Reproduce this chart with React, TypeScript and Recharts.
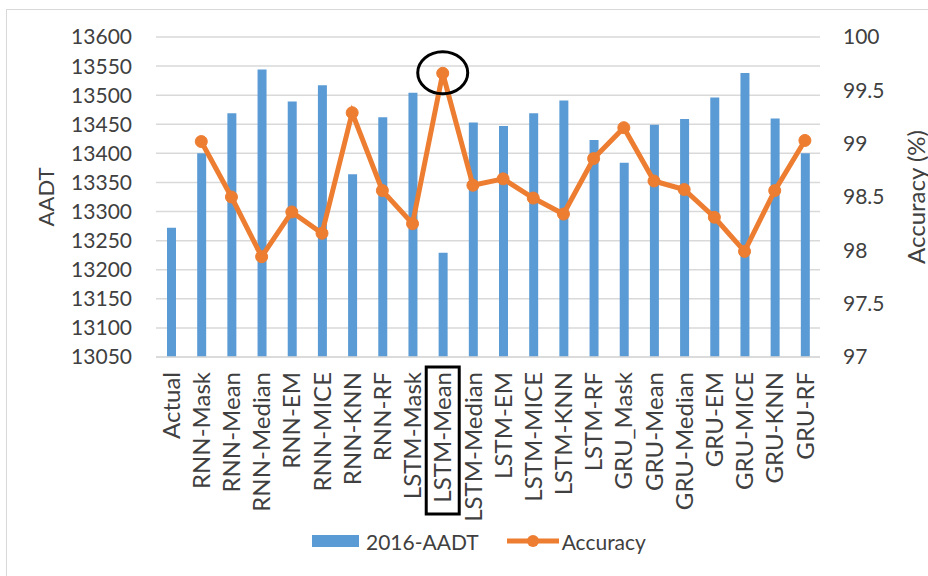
import React from 'react';
import {
  ComposedChart,
  Bar,
  Line,
  XAxis,
  YAxis,
  CartesianGrid,
  Legend,
  ReferenceDot,
} from 'recharts';

const categories = [
  'Actual', 'RNN-Mask', 'RNN-Mean', 'RNN-Median', 'RNN-EM', 'RNN-MICE', 'RNN-KNN', 'RNN-RF',
  'LSTM-Mask', 'LSTM-Mean', 'LSTM-Median', 'LSTM-EM', 'LSTM-MICE', 'LSTM-KNN', 'LSTM-RF',
  'GRU_Mask', 'GRU-Mean', 'GRU-Median', 'GRU-EM', 'GRU-MICE', 'GRU-KNN', 'GRU-RF',
];

const aadt2016 = [
  13272, 13400, 13469, 13544, 13489, 13517, 13364, 13462,
  13504, 13229, 13453, 13447, 13469, 13491, 13423,
  13384, 13449, 13459, 13496, 13538, 13460, 13400,
];

const accuracy: (number | null)[] = [
  null, 99.02, 98.5, 97.94, 98.36, 98.16, 99.29, 98.56,
  98.25, 99.66, 98.61, 98.67, 98.49, 98.34, 98.86,
  99.15, 98.65, 98.57, 98.31, 97.99, 98.56, 99.03,
];

const aadtTicks = [13050, 13100, 13150, 13200, 13250, 13300, 13350, 13400, 13450, 13500, 13550, 13600];
const accuracyTicks = [97, 97.5, 98, 98.5, 99, 99.5, 100];

const highlightCategory = 'LSTM-Mean';

const BLUE = '#5B9BD5';
const ORANGE = '#ED7D31';
const TEXT = '#404040';
const FONT = 'Lato, "Open Sans", sans-serif';

const data = categories.map((name, i) => ({
  name,
  aadt: aadt2016[i],
  accuracy: accuracy[i],
}));

const highlightAccuracy = accuracy[categories.indexOf(highlightCategory)] as number;

const CategoryTick = (props: any) => {
  const { x, y, payload } = props;
  const label = payload.value as string;
  const hl = label === highlightCategory;
  return (
    <g transform={`translate(${x},${y})`}>
      <text
        x={-15}
        y={0}
        dy="0.36em"
        transform="rotate(-90)"
        textAnchor="end"
        fill={TEXT}
        fontSize={24}
        fontFamily={FONT}
      >
        {label}
      </text>
      {hl && (
        <rect x={-16.5} y={10} width={33} height={147} fill="none" stroke="#000" strokeWidth={3} />
      )}
    </g>
  );
};

const LeftTitle = (props: any) => {
  const vb = props.viewBox || { x: 0, y: 37, width: 156, height: 320 };
  const cx = 45;
  const cy = vb.y + vb.height / 2;
  return (
    <text
      x={cx}
      y={cy}
      transform={`rotate(-90 ${cx} ${cy})`}
      textAnchor="middle"
      dominantBaseline="central"
      fill={TEXT}
      fontSize={22}
      fontFamily={FONT}
    >
      AADT
    </text>
  );
};

const RightTitle = (props: any) => {
  const vb = props.viewBox || { x: 820, y: 37, width: 108, height: 320 };
  const cx = vb.x + 95;
  const cy = vb.y + vb.height / 2;
  return (
    <text
      x={cx}
      y={cy}
      transform={`rotate(-90 ${cx} ${cy})`}
      textAnchor="middle"
      dominantBaseline="central"
      fill={TEXT}
      fontSize={24}
      fontFamily={FONT}
    >
      Accuracy (%)
    </text>
  );
};

const LegendContent = (props: any) => {
  const payload = props.payload || [];
  const barName = payload.find((p: any) => p.dataKey === 'aadt')?.value ?? '2016-AADT';
  const lineName = payload.find((p: any) => p.dataKey === 'accuracy')?.value ?? 'Accuracy';
  return (
    <div
      style={{
        display: 'flex',
        alignItems: 'center',
        marginLeft: 312,
        height: 30,
        fontFamily: FONT,
        fontSize: 21,
        color: TEXT,
        whiteSpace: 'nowrap',
      }}
    >
      <span style={{ display: 'inline-block', width: 47, height: 12, background: BLUE }} />
      <span style={{ marginLeft: 7 }}>{barName}</span>
      <svg width={52} height={14} style={{ marginLeft: 28 }}>
        <line x1={0} y1={7} x2={52} y2={7} stroke={ORANGE} strokeWidth={5} />
        <circle cx={26} cy={7} r={6} fill={ORANGE} />
      </svg>
      <span style={{ marginLeft: 3 }}>{lineName}</span>
    </div>
  );
};

const HighlightEllipse = (props: any) => {
  const { cx, cy } = props;
  if (cx == null || cy == null) return null;
  return <ellipse cx={cx} cy={cy - 0.5} rx={25} ry={21} fill="none" stroke="#000" strokeWidth={3} />;
};

export default function App() {
  return (
    <div
      style={{
        position: 'absolute',
        left: 0,
        top: 0,
        width: 928,
        height: 576,
        overflow: 'hidden',
        background: '#fff',
      }}
    >
      <div
        style={{
          position: 'absolute',
          left: 6,
          top: 9,
          width: 960,
          height: 620,
          border: '1.5px solid #d9d9d9',
        }}
      />
      <div style={{ position: 'absolute', left: 0, top: 0 }}>
        <ComposedChart
          width={928}
          height={576}
          data={data}
          margin={{ top: 37, right: 0, left: 0, bottom: 0 }}
          barCategoryGap="35%"
        >
          <CartesianGrid
            yAxisId="left"
            vertical={false}
            horizontal={true}
            stroke="#d9d9d9"
            strokeWidth={1.5}
          />
          <XAxis
            dataKey="name"
            interval={0}
            height={219}
            tickLine={false}
            axisLine={{ stroke: '#d9d9d9', strokeWidth: 1.5 }}
            tickSize={0}
            tickMargin={0}
            tick={<CategoryTick />}
          />
          <YAxis
            yAxisId="left"
            orientation="left"
            width={156}
            domain={[13050, 13600]}
            ticks={aadtTicks}
            interval={0}
            allowDataOverflow
            axisLine={false}
            tickLine={false}
            tickSize={0}
            tickMargin={24}
            tick={{ fill: TEXT, fontSize: 21, fontFamily: FONT }}
            label={<LeftTitle />}
          />
          <YAxis
            yAxisId="right"
            orientation="right"
            width={108}
            domain={[97, 100]}
            ticks={accuracyTicks}
            interval={0}
            axisLine={false}
            tickLine={false}
            tickSize={0}
            tickMargin={23}
            tick={{ fill: TEXT, fontSize: 21, fontFamily: FONT, textAnchor: 'start' }}
            label={<RightTitle />}
          />
          <Bar
            yAxisId="left"
            dataKey="aadt"
            name="2016-AADT"
            fill={BLUE}
            barSize={9}
            isAnimationActive={false}
          />
          <Line
            yAxisId="right"
            dataKey="accuracy"
            name="Accuracy"
            type="linear"
            stroke={ORANGE}
            strokeWidth={5}
            dot={{ r: 6, fill: ORANGE, stroke: ORANGE, strokeWidth: 1 }}
            activeDot={false}
            isAnimationActive={false}
          />
          <ReferenceDot
            yAxisId="right"
            x={highlightCategory}
            y={highlightAccuracy}
            r={22}
            ifOverflow="visible"
            shape={<HighlightEllipse />}
          />
          <Legend
            verticalAlign="middle"
            align="center"
            layout="horizontal"
            wrapperStyle={{ top: 526, left: 0, width: 928, height: 30 }}
            content={<LegendContent />}
          />
        </ComposedChart>
      </div>
    </div>
  );
}
